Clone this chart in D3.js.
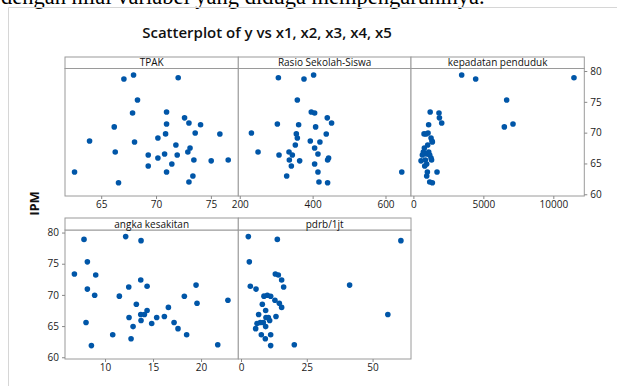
<!DOCTYPE html>
<html>
<head>
<meta charset="utf-8">
<script src="https://cdn.jsdelivr.net/npm/d3@7"></script>
<style>
  body { margin: 0; background: #fff; }
  svg { display: block; }
  .tick text { font-family: "Open Sans", sans-serif; font-size: 10px; fill: #1a1a1a; }
  .tick line { stroke: #888; }
  .domain { display: none; }
</style>
</head>
<body>
<svg></svg>
<script>
const ipm       = [79.35, 78.9, 78.7, 75.3, 73.35, 73.19, 72.4, 71.57, 71.4, 71.27, 70.93, 69.95, 69.8, 69.78, 69.14, 68.65, 68.49, 68.0, 67.5, 66.86, 66.86, 66.54, 66.38, 66.38, 65.89, 65.57, 65.57, 65.42, 64.92, 64.59, 63.62, 63.62, 62.97, 62.0, 61.87]
const tpak      = [67.95, 72.02, 67.07, 68.31, 70.96, 67.86, 72.6, 73.0, 70.96, 74.06, 66.19, 73.57, 70.87, 75.82, 70.17, 63.94, 68.04, 71.81, 73.1, 66.28, 72.9, 70.78, 69.29, 71.93, 70.17, 73.45, 76.58, 75.03, 71.44, 69.29, 62.57, 70.96, 73.36, 73.0, 66.58]
const rasio     = [402.7, 306, 376.3, 358, 396.3, 405.5, 440.2, 452, 303.2, 361.6, 408.2, 232, 355.3, 437.4, 358, 393.6, 420, 352.5, 405.5, 250.2, 335.2, 414.6, 307.8, 344.3, 443.8, 336.1, 441.1, 364.4, 405.5, 341.6, 644.7, 414.6, 328.8, 417.4, 441.1]
const kepadatan = [3452, 11476, 4452, 6667, 1200, 1830, 1860, 2024, 7119, 1090, 6500, 1048, 762, 900, 1262, 1330, 1357, 1024, 786, 714, 1095, 952, 643, 1167, 1262, 857, 1300, 548, 952, 810, 1000, 1690, 952, 1167, 1357]
const angka     = [12.15, 7.81, 13.75, 8.16, 6.81, 9.03, 13.72, 19.48, 14.38, 12.47, 8.16, 8.92, 11.49, 18.26, 22.8, 19.58, 13.26, 16.6, 14.38, 13.72, 14.1, 16.18, 12.5, 15.38, 13.75, 8.02, 17.19, 14.86, 12.92, 17.6, 10.8, 18.5, 12.71, 21.74, 8.58]
const pdrb      = [2.78, 13.8, 60.76, 3.16, 13.04, 14.18, 15.44, 41.27, 3.54, 16.2, 5.7, 10.0, 8.73, 11.27, 12.9, 14.56, 8.1, 15.44, 9.37, 55.8, 6.7, 13.29, 9.49, 10.38, 10.89, 7.34, 8.48, 6.08, 9.37, 5.57, 7.72, 11.27, 9.24, 20.25, 11.27]

const panelNames = ['TPAK', 'Rasio Sekolah-Siswa', 'kepadatan penduduk', 'angka kesakitan', 'pdrb/1jt']
const xTicks = [[65, 70, 75], [200, 400, 600], [0, 5000, 10000], [10, 15, 20], [0, 25, 50]]
const yTicks = [60, 65, 70, 75, 80]

const width = 617
const height = 386
const svg = d3.select('svg').attr('width', width).attr('height', height)

// frame and the cut-off line of text above it
svg.append('text')
    .attr('x', 1).attr('y', 4)
    .style('font-family', '"Liberation Serif", serif')
    .style('font-size', '22.5px')
    .attr('fill', '#000')
    .text('dengan nilai variabel yang diduga mempengaruhinya.')
svg.append('path')
    .attr('d', 'M8.5,386 V7.5 H617')
    .attr('fill', 'none').attr('stroke', '#d6d6d6').attr('stroke-width', 1)

svg.append('text')
    .attr('x', 267).attr('y', 38)
    .attr('text-anchor', 'middle')
    .style('font-family', '"Open Sans", sans-serif')
    .style('font-size', '15px').style('font-weight', 600)
    .attr('fill', '#111')
    .text('Scatterplot of y vs x1, x2, x3, x4, x5')

svg.append('text')
    .attr('transform', 'translate(38.5,203.5) rotate(-90)')
    .attr('text-anchor', 'middle')
    .style('font-family', '"Open Sans", sans-serif')
    .style('font-size', '13px').style('font-weight', 700)
    .attr('fill', '#111')
    .text('IPM')

const rows = [
    {stripTop: 57, plotTop: 68.5, plotBottom: 196},
    {stripTop: 218, plotTop: 230, plotBottom: 359}
]
const cols = [65, 238.3, 411, 584.3]

const panels = [
    {values: tpak, domain: [61.7, 77.5], row: 0, col: 0},
    {values: rasio, domain: [196, 670], row: 0, col: 1},
    {values: kepadatan, domain: [-170, 12214], row: 0, col: 2, rightAxis: true},
    {values: angka, domain: [5.83, 23.88], row: 1, col: 0, leftAxis: true},
    {values: pdrb, domain: [-1.03, 64.6], row: 1, col: 1}
]

panels.forEach((p, i) => {
    const r = rows[p.row]
    const x0 = cols[p.col], x1 = cols[p.col + 1]
    const xScale = d3.scaleLinear().domain(p.domain).range([x0, x1])
    const yScale = d3.scaleLinear().domain([59.72, 80.41]).range([r.plotBottom, r.plotTop])
    const g = svg.append('g')

    // panel box and strip
    g.append('rect')
        .attr('x', x0).attr('y', r.plotTop).attr('width', x1 - x0).attr('height', r.plotBottom - r.plotTop)
        .attr('fill', '#fff').attr('stroke', '#9a9a9a')
    g.append('rect')
        .attr('x', x0).attr('y', r.stripTop).attr('width', x1 - x0).attr('height', r.plotTop - r.stripTop)
        .attr('fill', '#fff').attr('stroke', '#9a9a9a')
    g.append('text')
        .attr('x', (x0 + x1) / 2).attr('y', r.plotTop - 2.5)
        .attr('text-anchor', 'middle')
        .style('font-family', '"Open Sans", sans-serif').style('font-size', '10px')
        .attr('fill', '#111')
        .text(panelNames[i])

    g.append('g')
        .attr('transform', 'translate(0,' + r.plotBottom + ')')
        .call(d3.axisBottom(xScale).tickValues(xTicks[i]).tickSize(3).tickPadding(2).tickFormat(d3.format('d')))

    if (p.rightAxis) {
        g.append('g')
            .attr('transform', 'translate(' + x1 + ',0)')
            .call(d3.axisRight(yScale).tickValues(yTicks).tickSize(3).tickPadding(3))
    }
    if (p.leftAxis) {
        g.append('g')
            .attr('transform', 'translate(' + x0 + ',0)')
            .call(d3.axisLeft(yScale).tickValues(yTicks).tickSize(3).tickPadding(3))
    }

    g.selectAll('circle')
        .data(p.values)
        .enter()
        .append('circle')
        .attr('cx', (d) => xScale(d))
        .attr('cy', (d, j) => yScale(ipm[j]))
        .attr('r', 2.8)
        .attr('fill', '#0056a8')
})
</script>
</body>
</html>
